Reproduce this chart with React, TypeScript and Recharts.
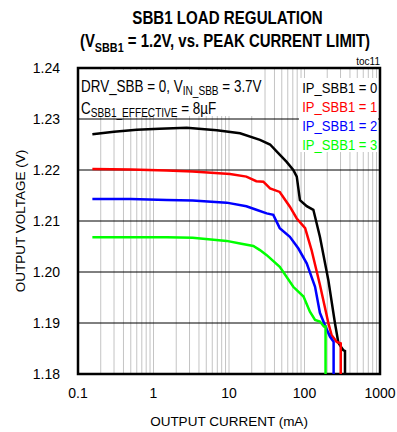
import React from 'react';
import { LineChart, Line, XAxis, YAxis, CartesianGrid, ReferenceArea } from 'recharts';

const FONT = '"Liberation Sans", Arial, sans-serif';

const xTicks = [
  0.1, 0.2, 0.3, 0.4, 0.5, 0.6, 0.7, 0.8, 0.9,
  1, 2, 3, 4, 5, 6, 7, 8, 9,
  10, 20, 30, 40, 50, 60, 70, 80, 90,
  100, 200, 300, 400, 500, 600, 700, 800, 900, 1000,
];
const xLabels = [0.1, 1, 10, 100, 1000];
const yTicks = [1.18, 1.19, 1.2, 1.21, 1.22, 1.23, 1.24];

const ip0Current = [0.155, 0.3, 0.6, 1.2, 2.75, 6.9, 14, 25.7, 35, 43, 58, 71, 79, 87, 107, 131, 160, 207, 253, 281, 325, 344, 344];
const ip0Voltage = [1.227, 1.2275, 1.2279, 1.2281, 1.2283, 1.2278, 1.2272, 1.2259, 1.225, 1.2236, 1.2216, 1.22, 1.2187, 1.2141, 1.2129, 1.2122, 1.2069, 1.1984, 1.19, 1.1861, 1.1847, 1.1845, 1.18];

const ip1Current = [0.155, 0.5, 1.5, 3.3, 10.3, 17, 23, 28.5, 35, 47, 64, 79, 102, 124, 160, 207, 229, 267, 302, 302];
const ip1Voltage = [1.2202, 1.2201, 1.2199, 1.2197, 1.2192, 1.2187, 1.2178, 1.2177, 1.2164, 1.2157, 1.2128, 1.2105, 1.2086, 1.2043, 1.1975, 1.19, 1.1876, 1.1863, 1.186, 1.18];

const ip2Current = [0.155, 0.5, 1.5, 3.3, 9.3, 17, 23, 31.6, 38.6, 47, 64, 83, 107, 138, 160, 186, 218, 243, 243];
const ip2Voltage = [1.2143, 1.2143, 1.2141, 1.214, 1.2136, 1.2129, 1.2122, 1.2115, 1.2112, 1.2086, 1.2069, 1.2046, 1.2017, 1.1971, 1.192, 1.1896, 1.1873, 1.1863, 1.18];

const ip3Current = [0.155, 0.5, 1.5, 3.3, 9.3, 14, 21, 25.7, 31.6, 47, 71, 97, 118, 138, 160, 181, 190, 190];
const ip3Voltage = [1.2068, 1.2068, 1.2068, 1.2067, 1.2061, 1.2056, 1.2051, 1.2043, 1.2033, 1.201, 1.1971, 1.1952, 1.1922, 1.1906, 1.1903, 1.1893, 1.1893, 1.18];

const zip = (xs: number[], ys: number[]) => xs.map((x, i) => ({ i: x, v: ys[i] }));

const series = [
  { name: 'IP_SBB1 = 0', color: '#000000', data: zip(ip0Current, ip0Voltage) },
  { name: 'IP_SBB1 = 1', color: '#ff0000', data: zip(ip1Current, ip1Voltage) },
  { name: 'IP_SBB1 = 2', color: '#0000ff', data: zip(ip2Current, ip2Voltage) },
  { name: 'IP_SBB1 = 3', color: '#00ff00', data: zip(ip3Current, ip3Voltage) },
];

const narrow = (k: number, origin = 'left'): React.CSSProperties => ({
  whiteSpace: 'nowrap',
  transform: `scaleX(${k})`,
  transformOrigin: origin,
});

const sub: React.CSSProperties = { fontSize: 12, verticalAlign: '-3px' };

export default function App() {
  return (
    <div style={{ position: 'absolute', left: 0, top: 0, width: 397, height: 432, background: '#fff', fontFamily: FONT }}>
      <div style={{ position: 'absolute', left: 0, width: 455, top: 8, textAlign: 'center', fontWeight: 'bold', fontSize: 18, lineHeight: '20px', ...narrow(0.84, 'center') }}>
        SBB1 LOAD REGULATION
      </div>
      <div style={{ position: 'absolute', left: 0, width: 450, top: 31, textAlign: 'center', fontWeight: 'bold', fontSize: 18, lineHeight: '20px', ...narrow(0.83, 'center') }}>
        (V<sub style={{ fontSize: 13 }}>SBB1</sub> = 1.2V, vs. PEAK CURRENT LIMIT)
      </div>
      <LineChart width={397} height={432} margin={{ top: 68, right: 17, bottom: 28, left: 28 }}>
        <CartesianGrid horizontal={false} stroke="#c4c4c4" strokeWidth={1} />
        <CartesianGrid vertical={false} stroke="#000" strokeWidth={1} />
        <XAxis
          dataKey="i"
          type="number"
          scale="log"
          domain={[0.1, 1000]}
          allowDataOverflow
          ticks={xTicks}
          interval={0}
          tickLine={false}
          axisLine={false}
          tickFormatter={(v: number) => (xLabels.includes(v) ? String(v) : '')}
          tick={{ fill: '#000', fontSize: 14, fontFamily: FONT }}
          height={30}
          tickMargin={8}
          label={{ value: 'OUTPUT CURRENT (mA)', position: 'insideBottom', offset: -22, fill: '#000', fontSize: 13.5, fontFamily: FONT }}
        />
        <YAxis
          type="number"
          domain={[1.18, 1.24]}
          ticks={yTicks}
          interval={0}
          tickLine={false}
          axisLine={false}
          tickFormatter={(v: number) => v.toFixed(2)}
          tick={{ fill: '#000', fontSize: 14, fontFamily: FONT }}
          width={50}
          tickMargin={12}
          label={{ value: 'OUTPUT VOLTAGE (V)', angle: -90, position: 'insideLeft', offset: -8, style: { textAnchor: 'middle' }, fill: '#000', fontSize: 13.5, fontFamily: FONT }}
        />
        {series.map((s) => (
          <Line
            key={s.name}
            data={s.data}
            dataKey="v"
            name={s.name}
            type="linear"
            stroke={s.color}
            strokeWidth={2.5}
            dot={false}
            isAnimationActive={false}
          />
        ))}
        <ReferenceArea x1={0.1} x2={1000} y1={1.18} y2={1.24} fill="none" stroke="#000" strokeWidth={2.5} ifOverflow="visible" />
      </LineChart>
      <div style={{ position: 'absolute', right: 17, top: 56, fontSize: 10 }}>toc11</div>
      <div style={{ position: 'absolute', left: 80, top: 70, width: 183, height: 46, background: '#fff' }} />
      <div style={{ position: 'absolute', left: 81, top: 78, fontSize: 16, lineHeight: '17px', ...narrow(0.84) }}>
        <div>
          DRV_SBB = 0, V<sub style={sub}>IN_SBB</sub> = 3.7V
        </div>
        <div>
          C<sub style={sub}>SBB1_EFFECTIVE</sub> = 8µF
        </div>
      </div>
      <div style={{ position: 'absolute', left: 299, top: 78, width: 79, height: 74, background: '#fff' }} />
      <div style={{ position: 'absolute', right: 20, top: 78, fontSize: 15, lineHeight: '19px', textAlign: 'right', ...narrow(0.87, 'right') }}>
        {series.map((s) => (
          <div key={s.name} style={{ color: s.color }}>{s.name}</div>
        ))}
      </div>
    </div>
  );
}
